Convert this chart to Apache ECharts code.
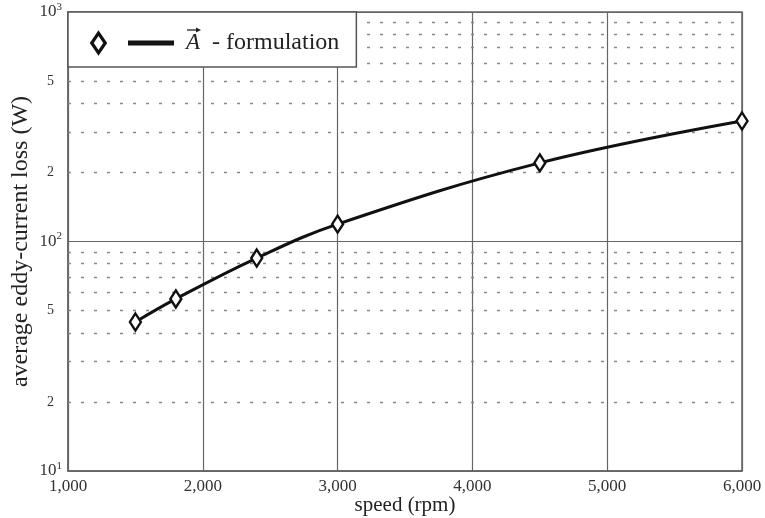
<!DOCTYPE html>
<html>
<head>
<meta charset="utf-8">
<script src="https://cdn.jsdelivr.net/npm/echarts@6/dist/echarts.min.js"></script>
<style>
  html, body { margin: 0; padding: 0; background: #fff; }
  #main { width: 765px; height: 518px; }
</style>
</head>
<body>
<div id="main"></div>
<script>
// data
var speed = [1500, 1800, 2400, 3000, 4500, 6000];
var loss = [44.6, 56.2, 84.7, 119, 220, 335];
// minor grid values (2..9 of each decade), labelled ones get a text
var minorVals = [20, 30, 40, 50, 60, 70, 80, 90, 200, 300, 400, 500, 600, 700, 800, 900];
var minorLabels = { 20: '2', 50: '5', 200: '2', 500: '5' };

var serif = 'Liberation Serif';
var chart = echarts.init(document.getElementById('main'));

var minorLines = minorVals.map(function (v) {
  return {
    yAxis: v,
    label: {
      show: !!minorLabels[v],
      formatter: minorLabels[v] || '',
      position: 'start',
      distance: 14,
      fontFamily: serif,
      fontSize: 14,
      color: '#333'
    }
  };
});

chart.setOption({
  backgroundColor: '#fff',
  animation: false,
  grid: {
    left: 68,
    right: 23,
    top: 12,
    bottom: 47,
    outerBoundsMode: 'none',
    containLabel: false,
    show: true,
    borderColor: '#666',
    borderWidth: 1.5
  },
  legend: {
    left: 68,
    top: 12,
    orient: 'horizontal',
    backgroundColor: '#fff',
    borderColor: '#555',
    borderWidth: 1.5,
    borderRadius: 0,
    padding: [19, 17, 12, 22],
    itemWidth: 82,
    itemHeight: 22,
    // hollow diamond + line segment drawn as one icon
    icon: 'path://M7.5 0 L15 11 L7.5 22 L0 11 Z M7.5 2.3 L1.6 11 L7.5 19.7 L13.4 11 Z M38 9.5 L82 9.5 L82 12.5 L38 12.5 Z',
    textStyle: {
      fontFamily: serif,
      fontSize: 24,
      color: '#222',
      padding: [0, 0, 0, 8],
      rich: {
        a: { fontFamily: serif, fontStyle: 'italic', fontSize: 23, color: '#222' },
        t: { fontFamily: serif, fontSize: 24, color: '#222' }
      }
    },
    formatter: function () {
      return '{a|A}{t|  - formulation}';
    },
    data: [{ name: 'A', itemStyle: { color: '#1a1a1a' } }]
  },
  // vector arrow over the legend "A"
  graphic: [
    {
      type: 'line',
      shape: { x1: 187, y1: 30, x2: 199, y2: 30 },
      style: { stroke: '#222', lineWidth: 1.3 },
      z: 100
    },
    {
      type: 'polygon',
      shape: { points: [[201, 30], [196, 27.6], [196, 32.4]] },
      style: { fill: '#222' },
      z: 100
    }
  ],
  xAxis: {
    type: 'value',
    min: 1000,
    max: 6000,
    interval: 1000,
    name: 'speed (rpm)',
    nameLocation: 'middle',
    nameGap: 24,
    nameMoveOverlap: false,
    nameTextStyle: { fontFamily: serif, fontSize: 21, color: '#222' },
    axisLine: { show: true, lineStyle: { color: '#666', width: 1.5 } },
    axisTick: { show: false },
    axisLabel: {
      fontFamily: serif,
      fontSize: 17,
      color: '#333',
      margin: 7,
      formatter: function (v) { return v.toLocaleString('en-US'); }
    },
    splitLine: { show: true, lineStyle: { color: '#666', width: 1.2 } }
  },
  yAxis: {
    type: 'log',
    logBase: 10,
    min: 10,
    max: 1000,
    name: 'average eddy-current loss (W)',
    nameLocation: 'middle',
    nameGap: 35,
    nameMoveOverlap: false,
    nameTextStyle: { fontFamily: serif, fontSize: 24, color: '#222' },
    axisLine: { show: true, lineStyle: { color: '#666', width: 1.5 } },
    axisTick: { show: false },
    axisLabel: {
      margin: 6,
      formatter: function (v) {
        return '{b|10}{s|' + Math.round(Math.log10(v)) + '}';
      },
      rich: {
        b: { fontFamily: serif, fontSize: 17, color: '#333' },
        s: { fontFamily: serif, fontSize: 11, color: '#333', verticalAlign: 'top', padding: [0, 0, 10, 0] }
      }
    },
    splitLine: { show: true, lineStyle: { color: '#666', width: 1.2 } }
  },
  series: [
    {
      name: 'A',
      type: 'line',
      smooth: 0.4,
      data: speed.map(function (s, i) { return [s, loss[i]]; }),
      symbol: 'diamond',
      symbolSize: [11, 17],
      showAllSymbol: true,
      lineStyle: { color: '#111', width: 3 },
      itemStyle: { color: '#fff', borderColor: '#111', borderWidth: 2.5 },
      z: 5,
      markLine: {
        silent: true,
        symbol: 'none',
        animation: false,
        lineStyle: { color: '#888', type: [3, 10], width: 1.3 },
        data: minorLines,
        z: 1
      }
    }
  ]
});
</script>
</body>
</html>
